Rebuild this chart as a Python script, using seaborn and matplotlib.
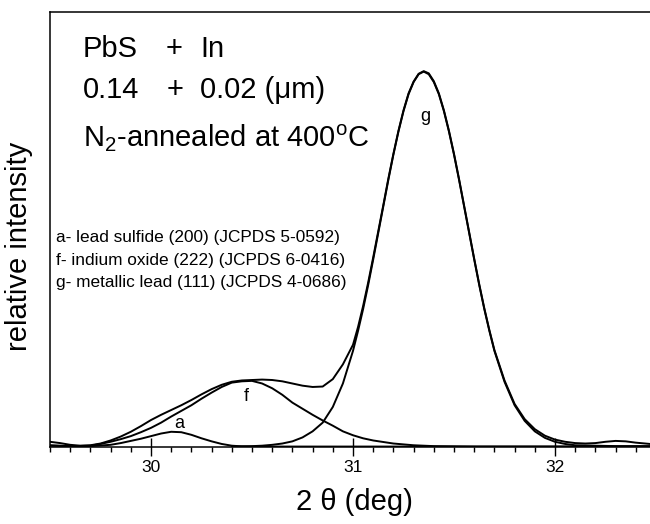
import matplotlib
matplotlib.use('Agg')
import matplotlib.pyplot as plt
from matplotlib.ticker import MultipleLocator, FixedLocator
import pandas as pd
import seaborn as sns

two_theta_sum = [29.5, 29.55, 29.6, 29.65, 29.7, 29.75, 29.8, 29.85, 29.9, 29.95,
                 30.0, 30.05, 30.1, 30.15, 30.2, 30.25, 30.3, 30.35, 30.4, 30.45,
                 30.5, 30.55, 30.6, 30.65, 30.7, 30.75, 30.8, 30.85, 30.9, 30.95,
                 31.0, 31.025, 31.05, 31.075, 31.1, 31.125, 31.15, 31.175, 31.2, 31.225,
                 31.25, 31.275, 31.3, 31.325, 31.35, 31.375, 31.4, 31.425, 31.45, 31.475,
                 31.5, 31.525, 31.55, 31.575, 31.6, 31.625, 31.65, 31.675, 31.7, 31.75,
                 31.8, 31.85, 31.9, 31.95, 32.0, 32.05, 32.1, 32.15, 32.2, 32.25,
                 32.3, 32.35, 32.4, 32.47]
intensity_sum = [1.2, 0.9, 0.5, 0.3, 0.4, 0.8, 1.5, 2.4, 3.5, 4.8,
                 6.2, 7.4, 8.5, 9.6, 10.8, 12.1, 13.3, 14.3, 15.0, 15.3,
                 15.4, 15.5, 15.4, 15.1, 14.6, 14.1, 13.8, 13.9, 15.6, 19.0,
                 23.5, 27.6, 32.4, 37.8, 43.6, 49.6, 55.6, 61.7, 67.4, 72.7,
                 77.4, 81.3, 84.0, 85.8, 86.4, 85.9, 84.1, 81.3, 77.4, 72.7,
                 67.4, 61.6, 55.5, 49.4, 43.3, 37.4, 31.9, 26.9, 22.3, 15.3,
                 9.9, 6.4, 4.1, 2.6, 1.7, 1.2, 0.9, 0.8, 0.9, 1.2,
                 1.4, 1.3, 1.0, 0.7]

two_theta_a = [29.5, 29.6, 29.7, 29.8, 29.85, 29.9, 29.95, 30.0, 30.05, 30.1,
               30.15, 30.2, 30.25, 30.3, 30.35, 30.4, 30.45, 30.5, 30.6, 30.8,
               31.2, 31.6, 32.0, 32.47]
intensity_a = [0.4, 0.2, 0.2, 0.5, 0.9, 1.4, 1.9, 2.5, 3.1, 3.5,
               3.4, 2.8, 2.0, 1.3, 0.7, 0.3, 0.15, 0.1, 0.1, 0.1,
               0.1, 0.1, 0.1, 0.1]

two_theta_f = [29.5, 29.6, 29.7, 29.75, 29.8, 29.85, 29.9, 29.95, 30.0, 30.05,
               30.1, 30.15, 30.2, 30.25, 30.3, 30.35, 30.4, 30.45, 30.5, 30.55,
               30.6, 30.65, 30.7, 30.75, 30.8, 30.85, 30.9, 30.95, 31.0, 31.05,
               31.1, 31.2, 31.3, 31.4, 31.6, 31.8, 32.0, 32.47]
intensity_f = [0.3, 0.2, 0.3, 0.7, 1.2, 1.8, 2.5, 3.4, 4.4, 5.6,
               7.0, 8.3, 9.6, 11.1, 12.5, 13.8, 14.8, 15.1, 15.2, 14.6,
               13.5, 12.0, 10.2, 8.8, 7.4, 6.1, 4.9, 3.6, 2.7, 2.0,
               1.5, 0.8, 0.4, 0.2, 0.1, 0.1, 0.1, 0.1]

two_theta_g = [30.4, 30.5, 30.55, 30.6, 30.65, 30.7, 30.75, 30.8, 30.85, 30.9,
               30.95, 31.0, 31.025, 31.05, 31.075, 31.1, 31.125, 31.15, 31.175, 31.2,
               31.225, 31.25, 31.275, 31.3, 31.325, 31.35, 31.375, 31.4, 31.425, 31.45,
               31.475, 31.5, 31.525, 31.55, 31.575, 31.6, 31.625, 31.65, 31.675, 31.7,
               31.75, 31.8, 31.85, 31.9, 31.95, 32.0, 32.05, 32.1, 32.2, 32.3,
               32.47]
intensity_g = [0.1, 0.2, 0.3, 0.5, 0.8, 1.3, 2.2, 3.6, 5.6, 9.2,
               14.6, 22.1, 26.7, 31.7, 37.2, 43.1, 49.2, 55.3, 61.4, 67.2,
               72.5, 77.2, 81.1, 83.9, 85.7, 86.3, 85.7, 83.9, 81.1, 77.2,
               72.5, 67.2, 61.4, 55.3, 49.2, 43.1, 37.2, 31.7, 26.7, 22.1,
               15.0, 9.6, 6.0, 3.6, 2.1, 1.2, 0.7, 0.4, 0.3, 0.2,
               0.2]

peak_labels = ['a', 'f', 'g']
peak_label_pos = [(30.14, 5.3), (30.47, 11.5), (31.36, 76.0)]
legend_lines = ['a- lead sulfide (200) (JCPDS 5-0592)',
                'f- indium oxide (222) (JCPDS 6-0416)',
                'g- metallic lead (111) (JCPDS 4-0686)']
x_ticks = [30, 31, 32]

sns.set_style('ticks')
plt.rcParams['font.family'] = ['Liberation Sans', 'DejaVu Sans']
plt.rcParams['mathtext.fontset'] = 'custom'
plt.rcParams['mathtext.rm'] = 'Liberation Sans'
plt.rcParams['text.color'] = 'black'
plt.rcParams['xtick.color'] = 'black'
plt.rcParams['xtick.labelcolor'] = 'black'

W, H = 650, 524
fig = plt.figure(figsize=(W / 100, H / 100), dpi=100)
ax = fig.add_axes([50 / W, 1 - 447 / H, 1 - 50 / W, (447 - 12) / H])

curvas = [(two_theta_sum, intensity_sum), (two_theta_a, intensity_a),
          (two_theta_f, intensity_f), (two_theta_g, intensity_g)]
for xs, ys in curvas:
    df = pd.DataFrame({'two_theta': xs, 'intensity': ys})
    sns.lineplot(data=df, x='two_theta', y='intensity', color='black',
                 linewidth=1.4, ax=ax)

ax.set_xlim(29.5, 29.5 + 600 / 202)
ax.set_ylim(0, 100)
ax.set_xlabel('')
ax.set_ylabel('')
ax.set_yticks([])
ax.xaxis.set_major_locator(FixedLocator(x_ticks))
ax.xaxis.set_minor_locator(MultipleLocator(0.1))
ax.set_xticklabels([str(t) for t in x_ticks])
ax.tick_params(axis='x', which='major', direction='inout', length=13, width=1.0,
               labelsize=12.5, pad=3, colors='black')
ax.tick_params(axis='x', which='minor', direction='out', length=3.6, width=1.0,
               colors='black')
for lado in ['left', 'top', 'bottom']:
    ax.spines[lado].set_linewidth(1.1)
    ax.spines[lado].set_color('black')
ax.spines['right'].set_visible(False)

# Rótulos dos picos
for lab, (px, py) in zip(peak_labels, peak_label_pos):
    ax.text(px, py, lab, fontsize=13, ha='center', va='center', color='black')

# Textos do cabeçalho (posições em pixels da figura)
def fx(p):
    return p / W

def fy(p):
    return 1 - p / H

fig.text(fx(83), fy(57), 'PbS', fontsize=21, va='baseline')
fig.text(fx(174), fy(57), '+', fontsize=21, va='baseline', ha='center')
fig.text(fx(200), fy(57), 'In', fontsize=21, va='baseline')
fig.text(fx(83), fy(98), '0.14', fontsize=21, va='baseline')
fig.text(fx(175), fy(98), '+', fontsize=21, va='baseline', ha='center')
fig.text(fx(200), fy(98), '0.02 (μm)', fontsize=21, va='baseline')
fig.text(fx(83), fy(147), r'N$_2$-annealed at 400$^{\rm o}$C', fontsize=21,
         va='baseline')

for i, linha in enumerate(legend_lines):
    fig.text(fx(56), fy(238 + 22 * i), linha, fontsize=12.4, va='center')

fig.text(fx(19), fy(246), 'relative intensity', fontsize=21, rotation=90,
         ha='center', va='center')
fig.text(fx(354), fy(502), '2 θ (deg)', fontsize=21, ha='center', va='center')

plt.savefig('out.png', dpi=100)
plt.close()
